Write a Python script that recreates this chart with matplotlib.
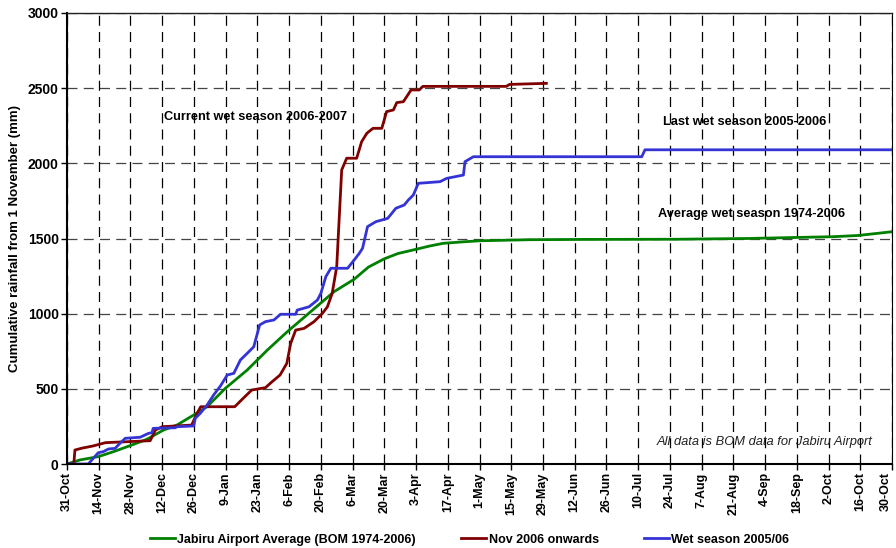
import matplotlib
matplotlib.use('Agg')
import matplotlib.pyplot as plt
import numpy as np
import datetime as dt

plt.rcParams['font.family'] = ['Liberation Sans', 'DejaVu Sans']

start = dt.date(2006, 10, 31)
tick_days = list(range(0, 365, 14))
tick_labels = [f"{(start + dt.timedelta(days=d)).day}-{(start + dt.timedelta(days=d)).strftime('%b')}" for d in tick_days]

# days since 31-Oct, cumulative rainfall (mm)
avg_days = [0, 5.7, 13.8, 20.5, 27.8, 35.2, 42.6, 48.5, 55.9, 61.8, 69.9, 79.5, 88.4, 97.2,
            107.5, 117.8, 126.7, 133, 140, 146, 152.8, 160, 166, 175, 182.3, 204.3, 230,
            269, 300, 338, 349, 364]
avg_vals = [0, 27, 49, 82, 122, 164, 226, 259, 326, 381, 504, 625, 758, 880,
            1013, 1146, 1229, 1310, 1365, 1400, 1424, 1450, 1468, 1478, 1485, 1492, 1494,
            1495, 1500, 1512, 1520, 1545]

cur_days = [0, 3, 3.5, 6.5, 11.5, 17, 36.7, 39, 42, 55, 57, 59, 74, 77, 81.5, 87.6, 90, 94,
            97, 98.7, 100.9, 104.6, 109, 112.7, 114.9, 117, 119, 121.2, 123.4, 127.8, 130,
            132.3, 135, 138.9, 141, 144, 145.5, 148.4, 151.8, 155.4, 157, 193.8, 195.3, 211.5]
cur_vals = [0, 0, 93, 105, 120, 142, 155, 226, 248, 259, 326, 381, 381, 426, 492, 508, 541, 592,
            670, 803, 891, 902, 947, 1002, 1046, 1135, 1312, 1956, 2034, 2034, 2144,
            2200, 2233, 2233, 2344, 2355, 2404, 2410, 2488, 2488, 2512, 2512, 2525, 2532]

last_days = [0, 9.4, 11.6, 13.8, 16, 18.3, 21.2, 23.4, 25.7, 32.3, 36, 37.5, 38, 47.8, 48.5,
             55.9, 56.6, 58.8, 61.8, 64.7, 67.7, 70.7, 73.6, 76.5, 79.5, 82.4, 85, 87.6, 91.3,
             94.2, 100.9, 101.6, 106.8, 110.5, 112, 114.2, 116.4, 123.8, 126.7, 128.9, 130.4,
             132.6, 136.3, 141.5, 145.1, 148.8, 150.6, 152.8, 155, 164.6, 167.5, 174.9, 175.6,
             179.3, 253.6, 255, 364]
last_vals = [0, 0, 38, 75, 82, 100, 104, 138, 171, 178, 204, 208, 237, 241, 248,
             253, 304, 337, 392, 459, 519, 592, 603, 692, 736, 780, 925, 947, 958,
             996, 996, 1024, 1046, 1091, 1135, 1246, 1302, 1302, 1357, 1400, 1435,
             1579, 1612, 1634, 1701, 1723, 1756, 1789, 1867, 1878, 1900, 1922, 2011,
             2044, 2044, 2090, 2090]

fig = plt.figure(figsize=(8.96, 5.48), dpi=100)
ax = fig.add_axes([67/896, 1-464/548, (892-67)/896, (464-13)/548])

ax.plot(avg_days, avg_vals, color='#008000', lw=2, label='Jabiru Airport Average (BOM 1974-2006)')
ax.plot(cur_days, cur_vals, color='#800000', lw=2, label='Nov 2006 onwards')
ax.plot(last_days, last_vals, color='#3434D6', lw=2, label='Wet season 2005/06')

ax.set_xlim(0, 364)
ax.set_ylim(0, 3000)
ax.set_xticks(tick_days)
ax.set_xticklabels(tick_labels, rotation=90, fontsize=9, fontweight='bold')
# keep the last label inside the figure
ax.get_xticklabels()[-1].set_horizontalalignment('right')
ax.set_yticks(np.arange(0, 3001, 500))
ax.set_yticklabels([str(v) for v in range(0, 3001, 500)], fontsize=10, fontweight='bold')
ax.tick_params(axis='both', direction='out', length=4, width=1, pad=2)
ax.grid(True, axis='x', color='black', linestyle=(0, (8, 5)), lw=0.9)
ax.grid(True, axis='y', color='#444444', linestyle=(0, (8, 5)), lw=0.9)
ax.set_axisbelow(True)
for s in ['left', 'bottom']:
    ax.spines[s].set_linewidth(1.5)
ax.spines['top'].set_linewidth(1.0)
ax.spines['top'].set_color('#222222')
ax.spines['right'].set_linewidth(0.8)

ax.set_ylabel('Cumulative rainfall from 1 November (mm)', fontsize=9.5, fontweight='bold', labelpad=5)

t_kw = dict(fontsize=9.2, fontweight='bold', ha='center', va='center')
ax.text(83, 2308, 'Current wet season 2006-2007', **t_kw)
ax.text(299, 2275, 'Last wet season 2005-2006', **t_kw)
ax.text(302, 1663, 'Average wet season 1974-2006', **t_kw)
ax.text(355.5, 146, 'All data is BOM data for Jabiru Airport', fontsize=9.3, style='italic',
        ha='right', va='center', color='#222222')

fig.legend(loc='lower center', bbox_to_anchor=(0.524, -0.016), ncol=3, frameon=False,
           prop={'size': 9, 'weight': 'bold'}, handlelength=2.0, handletextpad=0.2,
           columnspacing=3.6)

fig.savefig('out.png', dpi=100)
